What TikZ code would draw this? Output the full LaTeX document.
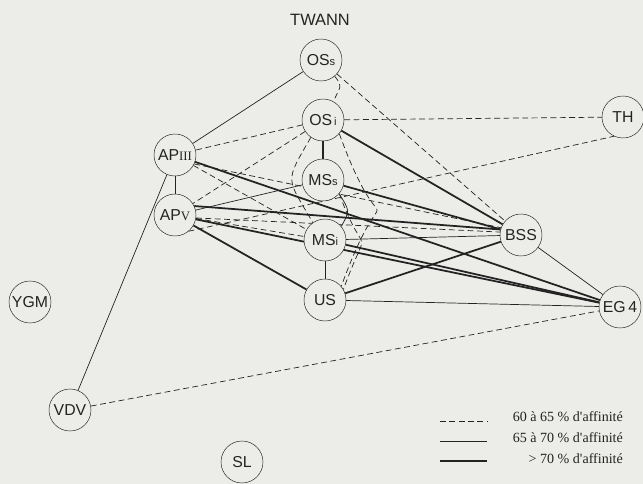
\documentclass[tikz,border=0pt]{standalone}
\usepackage{fontspec}
\setmainfont{Liberation Sans}
\newfontfamily\legendfont{Liberation Serif}
\usetikzlibrary{positioning,backgrounds}
\definecolor{paper}{RGB}{236,236,233}
\definecolor{ink}{RGB}{35,35,35}
\newcommand{\smallidx}[1]{{\fontsize{9.5}{10}\selectfont #1}}
\newcommand{\romnum}[1]{{\legendfont\fontsize{11}{11}\selectfont #1}}

\begin{document}
\begin{tikzpicture}[x=0.03cm, y=0.03cm,
  layer/.style={circle, draw=ink, fill=paper, minimum size=1.26cm,
    inner sep=0pt, font=\fontsize{13.5}{14}\selectfont, text=ink},
  affinlow/.style={draw=ink, line width=0.6pt, dash pattern=on 5pt off 3pt},
  affinmid/.style={draw=ink, line width=0.6pt},
  affinhigh/.style={draw=ink, line width=1.5pt},
  legtext/.style={font=\legendfont\fontsize{12}{12}\selectfont, text=ink,
    anchor=east},
]
  \useasboundingbox (0,0) rectangle (643,-484);

  % Site title
  \node[font=\fontsize{14}{14}\selectfont, text=ink] (twann) at (320,-20)
    {TWANN};

  % Layers
  \node[layer] (oss) at (321,-60) {OS\smallidx{s}};
  \node[layer] (osi) at (323,-120) {OS\smallidx{\,i}};
  \node[layer] (mss) at (323,-180) {MS\smallidx{s}};
  \node[layer] (msi) at (325,-240) {MS\smallidx{i}};
  \node[layer] (us) at (325,-300) {US};
  \node[layer] (ap3) at (175,-155) {AP\romnum{III}};
  \node[layer] (ap5) at (175,-215) {AP\romnum{V}};
  \node[layer] (bss) at (521,-235) {BSS};
  \node[layer] (th) at (623,-117) {TH};
  \node[layer] (eg4) at (620,-307) {EG\,4};
  \node[layer] (ygm) at (30,-302) {YGM};
  \node[layer] (vdv) at (70,-410) {VDV};
  \node[layer] (sl) at (242,-462) {SL};

  \begin{scope}[on background layer]
  \fill[paper] (0,0) rectangle (643,-484);

  % 60 a 65 % links
  \draw[affinlow] (oss.-50) to[out=-50, in=70, looseness=1.5] (osi.60);
  \draw[affinlow] (osi.235) to[out=240, in=120, looseness=1.6] (msi.125);
  \draw[affinlow] (osi.-40) to[out=-70, in=70, looseness=2.4] (us.40);
  \draw[affinlow] (mss.-40) to[out=-70, in=70, looseness=2.1] (us.30);
  \draw[affinlow] (oss) -- (bss);
  \draw[affinlow] (osi) -- (th);
  \draw[affinlow] (osi) -- (ap3);
  \draw[affinlow] (osi) -- (ap5);
  \draw[affinlow] (ap3) -- (msi);
  \draw[affinlow] (ap3.-25) -- (bss.160);
  \draw[affinlow] (ap5) -- (msi);
  \draw[affinlow] (ap5.-8) -- (bss.172);
  \draw[affinlow] (ap5.-50) -- (th.-115);
  \draw[affinlow] (vdv) -- (eg4);

  % 65 a 70 % links
  \draw[affinmid] (oss) -- (ap3);
  \draw[affinmid] (ap3) -- (ap5);
  \draw[affinmid] (ap3) -- (vdv);
  \draw[affinmid] (ap5) -- (mss);
  \draw[affinmid] (msi) -- (us);
  \draw[affinmid] (mss.-40) to[out=-60, in=60, looseness=1.5] (msi.40);
  \draw[affinmid] (msi) -- (bss);
  \draw[affinmid] (bss) -- (eg4);
  \draw[affinmid] (us) -- (eg4);

  % > 70 % links
  \draw[affinhigh] (osi) -- (mss);
  \draw[affinhigh] (osi) -- (bss);
  \draw[affinhigh] (mss) -- (bss);
  \draw[affinhigh] (us) -- (bss);
  \draw[affinhigh] (ap5.25) -- (bss.165);
  \draw[affinhigh] (ap3) -- (eg4);
  \draw[affinhigh] (ap5) -- (us);
  \draw[affinhigh] (ap5) -- (eg4);
  \draw[affinhigh] (msi) -- (eg4);
  \end{scope}

  % Legend
  \coordinate (leglowa) at (440,-421);
  \coordinate (leglowb) at (487,-421);
  \coordinate (legmida) at (440,-441);
  \coordinate (legmidb) at (487,-441);
  \coordinate (leghigha) at (440,-461);
  \coordinate (leghighb) at (487,-461);
  \draw[affinlow] (leglowa) -- (leglowb);
  \draw[affinmid] (legmida) -- (legmidb);
  \draw[affinhigh] (leghigha) -- (leghighb);
  \node[legtext] (leglow) at (627,-417) {60 à 65 \% d'affinité};
  \node[legtext] (legmid) at (627,-438) {65 à 70 \% d'affinité};
  \node[legtext] (leghigh) at (627,-459) {> 70 \% d'affinité};
\end{tikzpicture}
\end{document}
